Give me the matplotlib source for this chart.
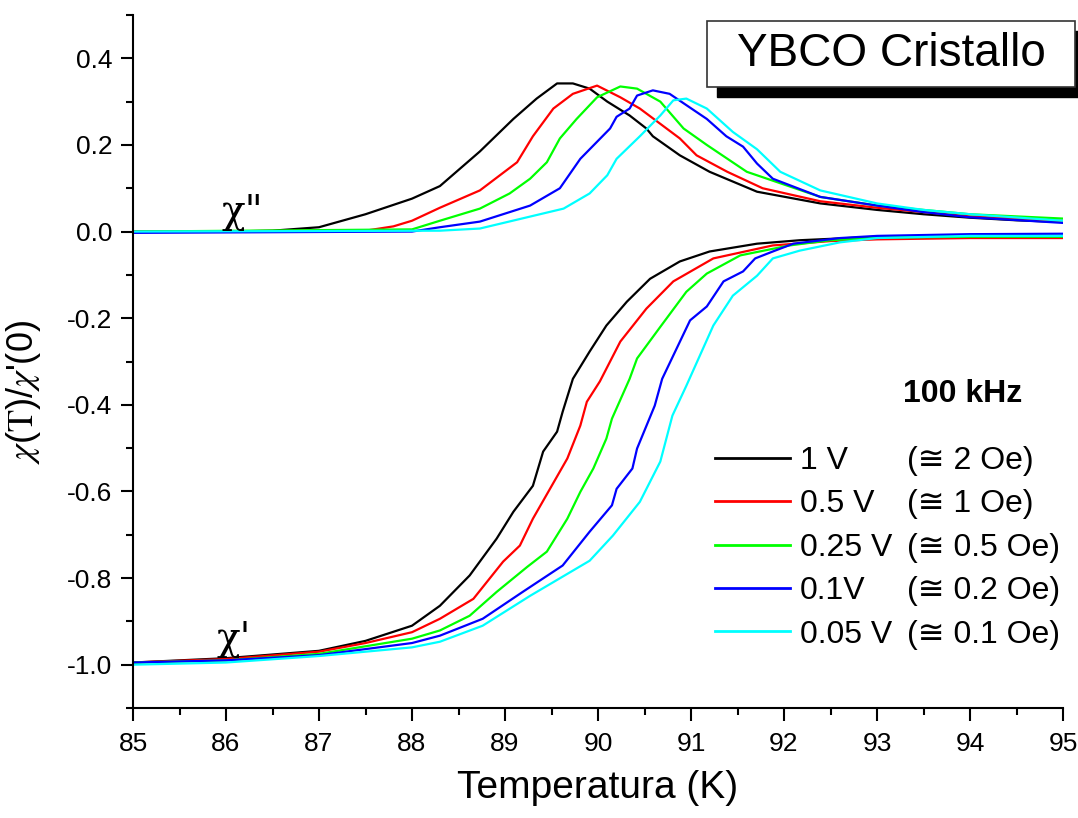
import matplotlib
matplotlib.use('Agg')
import matplotlib.pyplot as plt
from matplotlib.lines import Line2D
from matplotlib.patches import Rectangle
from matplotlib.ticker import MultipleLocator, FormatStrFormatter

plt.rcParams['font.family'] = ['Liberation Sans', 'DejaVu Sans']
plt.rcParams['axes.unicode_minus'] = False
plt.rcParams['mathtext.fontset'] = 'stix'

# chi'' (parte immaginaria) per ogni ampiezza
T_im_1 = [85.0, 86.0, 86.5, 87.0, 87.5, 88.0, 88.3, 88.73, 89.09, 89.34, 89.56, 89.73, 89.91, 90.10,
          90.34, 90.52, 90.59, 90.88, 91.2, 91.71, 92.39, 93.0, 93.5, 94.0, 94.5, 95.0]
im_1 = [0.0, 0.0, 0.002, 0.01, 0.04, 0.076, 0.105, 0.185, 0.26, 0.307, 0.342, 0.342, 0.33, 0.30,
        0.268, 0.238, 0.22, 0.176, 0.138, 0.092, 0.065, 0.05, 0.04, 0.032, 0.026, 0.022]

T_im_05 = [85.0, 87.5, 87.8, 88.0, 88.3, 88.73, 89.13, 89.30, 89.52, 89.73, 89.99, 90.24, 90.45,
           90.88, 91.06, 91.39, 91.77, 92.39, 93.0, 93.5, 94.0, 95.0]
im_05 = [0.0, 0.002, 0.012, 0.025, 0.055, 0.095, 0.16, 0.22, 0.284, 0.318, 0.337, 0.31, 0.284,
         0.215, 0.176, 0.138, 0.10, 0.07, 0.055, 0.045, 0.035, 0.025]

T_im_025 = [85.0, 88.0, 88.3, 88.73, 89.05, 89.27, 89.45, 89.59, 89.77, 89.99, 90.24, 90.42, 90.67,
            90.92, 91.17, 91.6, 92.39, 93.0, 93.5, 94.0, 95.0]
im_025 = [0.0, 0.005, 0.025, 0.053, 0.088, 0.122, 0.16, 0.215, 0.26, 0.31, 0.335, 0.33, 0.30,
          0.238, 0.20, 0.138, 0.08, 0.06, 0.05, 0.04, 0.03]

T_im_01 = [85.0, 88.0, 88.3, 88.73, 89.27, 89.59, 89.81, 90.13, 90.2, 90.34, 90.42, 90.59, 90.77,
           91.17, 91.38, 91.56, 91.71, 91.88, 92.39, 93.0, 93.5, 94.0, 95.0]
im_01 = [-0.003, 0.0, 0.01, 0.023, 0.06, 0.10, 0.168, 0.238, 0.265, 0.284, 0.314, 0.326, 0.318,
         0.26, 0.22, 0.196, 0.157, 0.122, 0.08, 0.06, 0.045, 0.033, 0.02]

T_im_005 = [85.0, 88.3, 88.73, 89.63, 89.91, 90.1, 90.2, 90.45, 90.67, 90.81, 90.95, 91.17, 91.45,
            91.71, 91.96, 92.39, 93.0, 93.5, 94.0, 95.0]
im_005 = [0.0, 0.002, 0.007, 0.053, 0.088, 0.13, 0.168, 0.22, 0.268, 0.303, 0.307, 0.284, 0.23,
          0.19, 0.138, 0.095, 0.065, 0.05, 0.04, 0.025]

# chi' (parte reale)
T_re_1 = [85.0, 86.0, 87.0, 87.5, 88.0, 88.3, 88.62, 88.91, 89.09, 89.30, 89.41, 89.56, 89.62, 89.73,
          89.91, 90.09, 90.31, 90.56, 90.88, 91.2, 91.71, 92.17, 93.0, 94.0, 95.0]
re_1 = [-0.995, -0.985, -0.968, -0.945, -0.91, -0.864, -0.794, -0.709, -0.647, -0.587, -0.508, -0.462,
        -0.416, -0.34, -0.277, -0.217, -0.162, -0.109, -0.069, -0.046, -0.028, -0.02, -0.012, -0.01, -0.01]

T_re_05 = [85.0, 86.0, 87.0, 87.5, 88.0, 88.3, 88.66, 88.98, 89.16, 89.30, 89.67, 89.81, 89.88, 90.02,
           90.24, 90.52, 90.81, 91.24, 91.88, 92.5, 93.0, 94.0, 95.0]
re_05 = [-0.995, -0.987, -0.97, -0.95, -0.925, -0.894, -0.848, -0.762, -0.725, -0.663, -0.524, -0.448,
         -0.393, -0.346, -0.254, -0.178, -0.115, -0.062, -0.032, -0.022, -0.018, -0.015, -0.015]

T_re_025 = [85.0, 86.0, 87.0, 88.0, 88.3, 88.62, 88.91, 89.24, 89.45, 89.67, 89.81, 89.95, 90.09, 90.15,
            90.34, 90.42, 90.67, 90.95, 91.17, 91.53, 92.06, 92.5, 93.0, 94.0, 95.0]
re_025 = [-0.995, -0.99, -0.975, -0.94, -0.921, -0.887, -0.832, -0.774, -0.739, -0.663, -0.601, -0.547,
          -0.478, -0.432, -0.34, -0.293, -0.22, -0.139, -0.097, -0.055, -0.032, -0.02, -0.014, -0.012, -0.012]

T_re_01 = [85.0, 86.0, 87.0, 88.0, 88.3, 88.76, 89.19, 89.62, 89.91, 90.15, 90.2, 90.37, 90.42, 90.61,
           90.69, 90.99, 91.17, 91.35, 91.56, 91.69, 91.88, 92.1, 92.6, 93.0, 94.0, 95.0]
re_01 = [-0.995, -0.99, -0.978, -0.95, -0.933, -0.894, -0.832, -0.771, -0.693, -0.632, -0.594, -0.547,
         -0.501, -0.402, -0.34, -0.205, -0.173, -0.115, -0.092, -0.062, -0.046, -0.028, -0.015, -0.01,
         -0.006, -0.005]

T_re_005 = [85.0, 86.0, 87.0, 88.0, 88.3, 88.76, 89.27, 89.91, 90.16, 90.45, 90.67, 90.8, 90.95, 91.24,
            91.45, 91.71, 91.88, 92.17, 92.6, 93.0, 94.0, 95.0]
re_005 = [-1.0, -0.995, -0.98, -0.96, -0.947, -0.91, -0.841, -0.76, -0.702, -0.624, -0.531, -0.425,
          -0.356, -0.217, -0.148, -0.102, -0.062, -0.044, -0.025, -0.015, -0.01, -0.01]

colori = ['black', '#ff0000', '#00ff00', '#0000ff', '#00ffff']
tensioni = ['1 V', '0.5 V', '0.25 V', '0.1V', '0.05 V']
campi = ['(\u2245 2 Oe)', '(\u2245 1 Oe)', '(\u2245 0.5 Oe)', '(\u2245 0.2 Oe)', '(\u2245 0.1 Oe)']

curve_im = [(T_im_1, im_1), (T_im_05, im_05), (T_im_025, im_025), (T_im_01, im_01), (T_im_005, im_005)]
curve_re = [(T_re_1, re_1), (T_re_05, re_05), (T_re_025, re_025), (T_re_01, re_01), (T_re_005, re_005)]

fig = plt.figure(figsize=(10.78, 8.18), dpi=100)
ax = fig.add_axes([133 / 1078, 1 - 708 / 818, 930 / 1078, 693 / 818])

for (t, y), c in zip(curve_im, colori):
    ax.plot(t, y, color=c, lw=1.6)
for (t, y), c in zip(curve_re, colori):
    ax.plot(t, y, color=c, lw=1.6)

ax.set_xlim(85, 95)
ax.set_ylim(-1.1, 0.5)
ax.xaxis.set_major_locator(MultipleLocator(1))
ax.xaxis.set_minor_locator(MultipleLocator(0.5))
ax.yaxis.set_major_locator(MultipleLocator(0.2))
ax.yaxis.set_minor_locator(MultipleLocator(0.1))
ax.yaxis.set_major_formatter(FormatStrFormatter('%.1f'))
ax.spines['top'].set_visible(False)
ax.spines['right'].set_visible(False)
ax.spines['left'].set_linewidth(1.5)
ax.spines['bottom'].set_linewidth(1.5)
ax.tick_params(which='major', direction='out', length=9, width=1.5, labelsize=19, pad=6)
ax.tick_params(which='minor', direction='out', length=5, width=1.5)
ax.tick_params(axis='x', which='major', pad=8)

ax.set_xlabel('Temperatura (K)', fontsize=28, labelpad=10)
ax.set_ylabel(r"$\chi$($\mathrm{T}$)/$\chi$'(0)", fontsize=26)
ax.yaxis.set_label_coords(-0.097, 0.456)

ax.text(85.95, 0.02, '\u03c7"', fontsize=28, family=['DejaVu Serif'])
ax.text(85.9, -0.965, "\u03c7'", fontsize=28, family=['DejaVu Serif'])

# riquadro del titolo con ombra
fig.patches.append(Rectangle((717 / 1078, 1 - 97 / 818), 368 / 1078, 66 / 818,
                             transform=fig.transFigure, facecolor='black', edgecolor='black', zorder=5))
fig.patches.append(Rectangle((707 / 1078, 1 - 87 / 818), 368 / 1078, 66 / 818,
                             transform=fig.transFigure, facecolor='white', edgecolor='#333333',
                             lw=1.2, zorder=6))
fig.text(891 / 1078, 1 - 54 / 818, 'YBCO Cristallo', fontsize=33, ha='center', va='center', zorder=7)

fig.text(903 / 1078, 1 - 394 / 818, '100 kHz', fontsize=23, fontweight='bold', va='center')

maniglie = [Line2D([], [], color=c, lw=2) for c in colori]
leg1 = fig.legend(maniglie, tensioni, loc='upper left', bbox_to_anchor=(715 / 1078, 1 - 446 / 818),
                  frameon=False, fontsize=23, handlelength=2.35, handletextpad=0.31,
                  labelspacing=0.42, borderpad=0, borderaxespad=0)
vuote = [Line2D([], [], alpha=0) for c in colori]
leg2 = fig.legend(vuote, campi, loc='upper left', bbox_to_anchor=(907 / 1078, 1 - 446 / 818),
                  frameon=False, fontsize=23, handlelength=0, handletextpad=0,
                  labelspacing=0.42, borderpad=0, borderaxespad=0)

fig.savefig('out.png', dpi=100)
